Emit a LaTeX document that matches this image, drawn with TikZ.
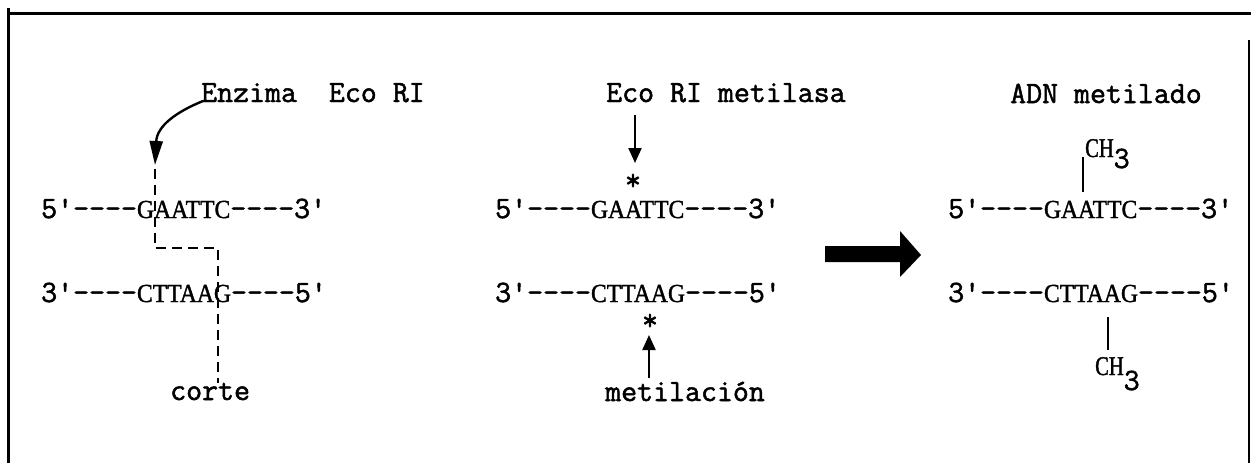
\documentclass[tikz,border=0pt]{standalone}
\usepackage{fontspec}
\newfontfamily\twfont{Latin Modern Mono}[FakeBold=1.6]
\newfontfamily\seqfont{Liberation Serif}[FakeStretch=0.91, FakeBold=1.4]
\newfontfamily\chfont{Liberation Serif}[FakeStretch=0.76, FakeBold=1.4]
\usetikzlibrary{arrows.meta}

% straight typewriter apostrophe and sequence letters
\newcommand\tq{\textquotesingle}
\newcommand\seqtxt[1]{{\fontsize{26}{30}\selectfont\seqfont #1}}
\newcommand\chtxt{{\fontsize{27}{30}\selectfont\chfont CH}}

\begin{document}
\begin{tikzpicture}[x=1pt, y=-1pt,
  tw/.style={font=\fontsize{31}{37}\selectfont\twfont, inner sep=0pt, anchor=base west},
  starmark/.style={tw, anchor=base},
  frameline/.style={line width=3pt},
  bond/.style={line width=2pt},
  cutline/.style={line width=2pt, dash pattern=on 10pt off 6pt},
  thinarrow/.style={line width=2.2pt, -{Triangle[length=15pt, width=13pt]}},
]
\useasboundingbox (0,0) rectangle (1251,463);

% frame
\draw[frameline] (10,13) -- (1251,13);
\draw[frameline] (8,8) -- (8,463);
\draw[line width=2pt] (1249,40) -- (1249,463);

% ---------- restriction by Eco RI ----------
\node[tw] (enz) at (201,102) {Enzima\ \ Eco RI};
\node[tw] (s1top) at (41,218) {5\tq––––\seqtxt{GAATTC}––––3\tq};
\node[tw] (s1bot) at (41,302) {3\tq––––\seqtxt{CTTAAG}––––5\tq};
\node[tw] (corte) at (170,400) {corte};

\coordinate (cut1) at (155,165);
\coordinate (cutA) at (155,248);
\coordinate (cutB) at (218,248);
\draw[line width=2.4pt, -{Triangle[length=24pt, width=13pt]}]
  ([shift={(2,-1)}]enz.base west) .. controls (176,112) and (157,126) .. (cut1);
\draw[cutline] ([shift={(0,4)}]cut1) -- (cutA) -- (cutB) -- (cutB |- corte.north);

% ---------- methylation by Eco RI methylase ----------
\node[tw] (met) at (606,102) {Eco RI metilasa};
\node[starmark] (st1) at (633,190) {*};
\node[tw] (s2top) at (495,218) {5\tq––––\seqtxt{GAATTC}––––3\tq};
\node[tw] (s2bot) at (495,302) {3\tq––––\seqtxt{CTTAAG}––––5\tq};
\node[starmark] (st2) at (650,330) {*};
\node[tw] (metil) at (605,401) {metilación};

\coordinate (d1) at (635,115);
\coordinate (u1) at (649,378);
\draw[thinarrow] (d1) -- (635,163);
\draw[thinarrow] (u1) -- (649,335);

% ---------- transition arrow ----------
\fill (825,246) -- (900,246) -- (900,231) -- (921,255) -- (900,277)
      -- (900,262) -- (825,262) -- cycle;

% ---------- methylated DNA ----------
\node[tw] (adn) at (1010,103) {ADN metilado};
\node[tw] (ch1) at (1085,157) {\chtxt\raisebox{-11pt}{3}};
\node[tw] (s3top) at (948,218) {5\tq––––\seqtxt{GAATTC}––––3\tq};
\node[tw] (s3bot) at (948,302) {3\tq––––\seqtxt{CTTAAG}––––5\tq};
\node[tw] (ch2) at (1095,375) {\chtxt\raisebox{-15pt}{3}};

\coordinate (b1) at (1083,0);
\coordinate (b2) at (1108,0);
\draw[bond] (b1 |- ch1.base) -- ([yshift=6pt]b1 |- s3top.north);
\draw[bond] ([yshift=-15pt]b2 |- s3bot.base) -- ([yshift=7pt]b2 |- ch2.north);
\end{tikzpicture}
\end{document}
